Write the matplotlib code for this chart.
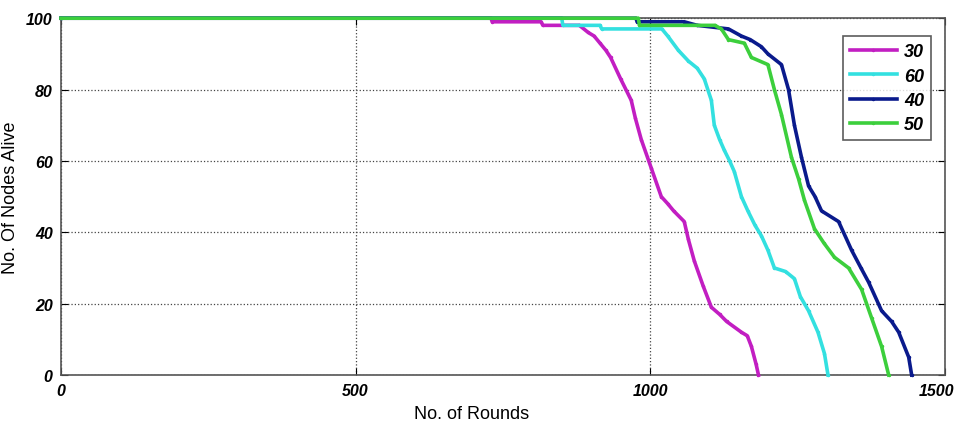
import numpy as np
import matplotlib
matplotlib.use('Agg')
import matplotlib.pyplot as plt
import matplotlib.transforms as mtransforms

plt.rcParams['font.family'] = ['Liberation Sans', 'DejaVu Sans']

# rounds vs alive nodes for each setting
x30 = [0, 730, 732, 815, 818, 880, 895, 905, 915, 925, 933, 950, 968, 975, 985, 1002, 1019, 1030, 1040, 1058, 1065, 1075, 1090, 1104, 1118, 1130, 1155, 1165, 1172, 1180, 1184]
y30 = [100, 100, 99, 99, 98, 98, 96, 95, 93, 91, 89, 83, 77, 72, 66, 58, 50, 48, 46, 43, 38, 32, 25, 19, 17, 15, 12, 11, 8, 3, 0]

x60 = [0, 850, 852, 915, 918, 1020, 1030, 1048, 1065, 1080, 1092, 1104, 1109, 1118, 1126, 1135, 1143, 1155, 1166, 1178, 1189, 1200, 1211, 1230, 1245, 1255, 1269, 1285, 1296, 1302]
y60 = [100, 100, 98, 98, 97, 97, 95, 91, 88, 86, 83, 77, 70, 66, 63, 60, 57, 50, 46, 42, 39, 35, 30, 29, 27, 22, 18, 12, 6, 0]

x40 = [0, 976, 978, 1058, 1080, 1133, 1155, 1170, 1189, 1200, 1223, 1235, 1245, 1257, 1269, 1280, 1291, 1320, 1342, 1358, 1371, 1393, 1410, 1422, 1439, 1444]
y40 = [100, 100, 99, 99, 98, 97, 95, 94, 92, 90, 87, 80, 70, 61, 53, 50, 46, 43, 35, 30, 26, 18, 15, 12, 5, 0]

x50 = [0, 980, 982, 1110, 1121, 1133, 1160, 1172, 1200, 1211, 1223, 1240, 1252, 1262, 1279, 1295, 1313, 1337, 1359, 1376, 1393, 1405]
y50 = [100, 100, 98, 98, 97, 94, 93, 89, 87, 80, 73, 61, 55, 49, 41, 37, 33, 30, 24, 16, 8, 0]

series = [
    ('30', x30, y30, '#c21ec2'),
    ('60', x60, y60, '#33e0e0'),
    ('40', x40, y40, '#0a1a8c'),
    ('50', x50, y50, '#3ccf3c'),
]

fig = plt.figure(figsize=(9.6, 4.27), dpi=100)
ax = fig.add_axes([0.0635, 0.1194, 0.9205, 0.8356])

for name, xs, ys, c in series:
    ax.plot(xs, ys, color=c, linewidth=2.6, marker='.', markersize=3, label=name,
            clip_on=False, zorder=3)

ax.set_xlim(0, 1500)
ax.set_ylim(0, 100)
ax.set_xticks([0, 500, 1000, 1500])
ax.set_yticks([0, 20, 40, 60, 80, 100])
ax.grid(True, linestyle=':', color='#444444', linewidth=0.9)
ax.tick_params(direction='in', top=True, right=True, length=5, pad=6)
for lab in ax.get_xticklabels() + ax.get_yticklabels():
    lab.set_fontweight('bold')
    lab.set_fontstyle('italic')
    lab.set_fontsize(11.5)
# keep the last x tick label inside the figure
last = ax.get_xticklabels()[-1]
last.set_transform(last.get_transform() + mtransforms.ScaledTranslation(-6 / 72, 0, fig.dpi_scale_trans))
for sp in ax.spines.values():
    sp.set_color('#555555')
    sp.set_linewidth(1.2)

ax.set_xlabel('No. of Rounds', fontsize=13)
ax.set_ylabel('No. Of Nodes Alive', fontsize=13)
ax.xaxis.set_label_coords(0.465, -0.085)
ax.yaxis.set_label_coords(-0.048, 0.5)

leg = ax.legend(loc='upper right', bbox_to_anchor=(0.995, 0.975), fancybox=False,
                edgecolor='#333333', handlelength=2.6, numpoints=1,
                prop={'weight': 'bold', 'style': 'italic', 'size': 13},
                labelspacing=0.4, borderpad=0.4, handletextpad=0.4)
leg.get_frame().set_linewidth(1.2)
leg.set_zorder(5)

plt.savefig('out.png', dpi=100)
